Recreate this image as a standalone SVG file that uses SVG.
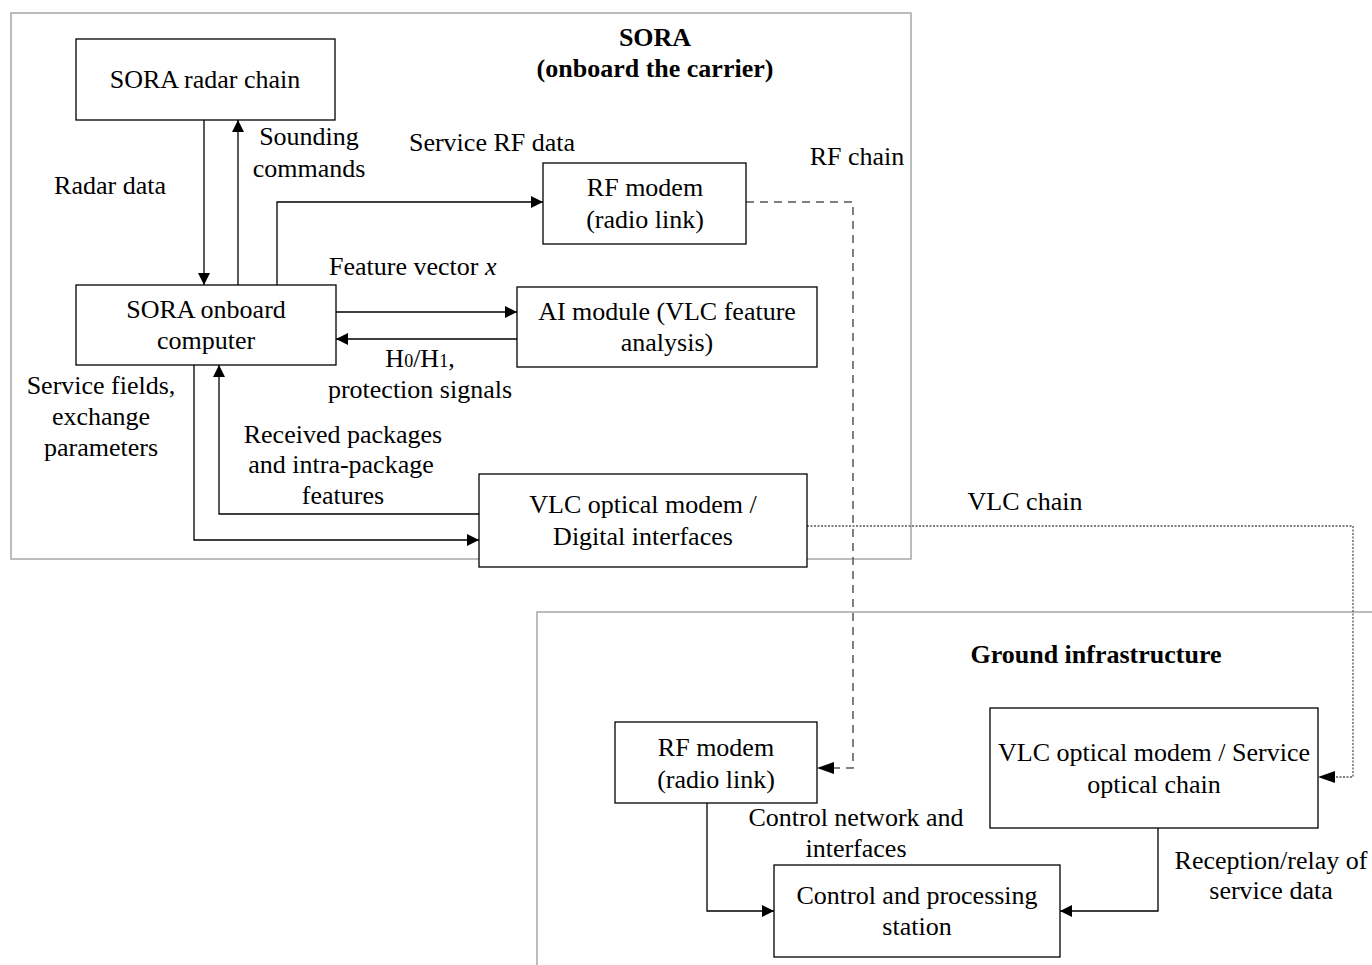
<svg xmlns="http://www.w3.org/2000/svg" width="1372" height="965" viewBox="0 0 1372 965">
<style>
text{font-family:"Liberation Serif","Times New Roman",serif;font-size:26px;fill:#000;text-anchor:middle}
.b{font-weight:bold}
.box{fill:#fff;stroke:#000;stroke-width:1.3}
.cont{fill:none;stroke:#a6a6a6;stroke-width:1.5}
.ln{fill:none;stroke:#000;stroke-width:1.3}
.dash{fill:none;stroke:#555;stroke-width:1.5;stroke-dasharray:8,6}
.dot{fill:none;stroke:#555;stroke-width:1.3;stroke-dasharray:2,1.5}
</style>
<defs>
<marker id="ah" viewBox="0 0 10 10" refX="10" refY="5" markerWidth="17" markerHeight="12" markerUnits="userSpaceOnUse" orient="auto"><path d="M0,0L10,5L0,10z" fill="#000"/></marker>
</defs>
<rect width="1372" height="965" fill="#fff"/>
<g id="containers">
<rect class="cont" x="11" y="13" width="900" height="546"/>
<path class="cont" d="M537,965V612H1372"/>
<text class="b" x="655" y="46">SORA</text>
<text class="b" x="655" y="77">(onboard the carrier)</text>
<text class="b" x="1096" y="663">Ground infrastructure</text>
</g>
<g id="connectors">
<path class="ln" d="M204,120V285" marker-end="url(#ah)"/>
<path class="ln" d="M238,285V120" marker-end="url(#ah)"/>
<path class="ln" d="M277,285V202H543" marker-end="url(#ah)"/>
<path class="ln" d="M336,312H517" marker-end="url(#ah)"/>
<path class="ln" d="M517,339H336" marker-end="url(#ah)"/>
<path class="ln" d="M479,514H219V365" marker-end="url(#ah)"/>
<path class="ln" d="M194,365V540H479" marker-end="url(#ah)"/>
<path class="dash" d="M746,202H853V768H824"/>
<path d="M817,768l17,-6v12z" fill="#000"/>
<path class="dot" d="M807,526H1353V777H1324"/>
<path d="M1318,777l17,-6v12z" fill="#000"/>
<path class="ln" d="M707,803V911H774" marker-end="url(#ah)"/>
<path class="ln" d="M1158,828V911H1060" marker-end="url(#ah)"/>
<text x="309" y="145">Sounding</text>
<text x="309" y="177">commands</text>
<text x="110" y="194">Radar data</text>
<text x="492" y="151">Service RF data</text>
<text x="857" y="165">RF chain</text>
<text x="329" y="275" style="text-anchor:start">Feature vector <tspan font-style="italic">x</tspan></text>
<text x="420" y="367">H<tspan font-size="18">0</tspan>/H<tspan font-size="18">1</tspan>,</text>
<text x="420" y="398">protection signals</text>
<text x="101" y="394">Service fields,</text>
<text x="101" y="425">exchange</text>
<text x="101" y="456">parameters</text>
<text x="343" y="443">Received packages</text>
<text x="341" y="473">and intra-package</text>
<text x="343" y="504">features</text>
<text x="1025" y="510">VLC chain</text>
<text x="856" y="826">Control network and</text>
<text x="856" y="857">interfaces</text>
<text x="1271" y="869">Reception/relay of</text>
<text x="1271" y="899">service data</text>
</g>
<g id="radar">
<rect class="box" x="76" y="39" width="259" height="81"/>
<text x="205" y="88">SORA radar chain</text>
</g>
<g id="rfmodem">
<rect class="box" x="543" y="163" width="203" height="81"/>
<text x="645" y="196">RF modem</text>
<text x="645" y="228">(radio link)</text>
</g>
<g id="computer">
<rect class="box" x="76" y="285" width="260" height="80"/>
<text x="206" y="318">SORA onboard</text>
<text x="206" y="349">computer</text>
</g>
<g id="ai">
<rect class="box" x="517" y="287" width="300" height="80"/>
<text x="667" y="320">AI module (VLC feature</text>
<text x="667" y="351">analysis)</text>
</g>
<g id="vlcmodem">
<rect class="box" x="479" y="474" width="328" height="93"/>
<text x="643" y="513">VLC optical modem /</text>
<text x="643" y="545">Digital interfaces</text>
</g>
<g id="grfmodem">
<rect class="box" x="615" y="722" width="202" height="81"/>
<text x="716" y="756">RF modem</text>
<text x="716" y="788">(radio link)</text>
</g>
<g id="gvlcmodem">
<rect class="box" x="990" y="708" width="328" height="120"/>
<text x="1154" y="761">VLC optical modem / Service</text>
<text x="1154" y="793">optical chain</text>
</g>
<g id="station">
<rect class="box" x="774" y="865" width="286" height="92"/>
<text x="917" y="904">Control and processing</text>
<text x="917" y="935">station</text>
</g>
</svg>
